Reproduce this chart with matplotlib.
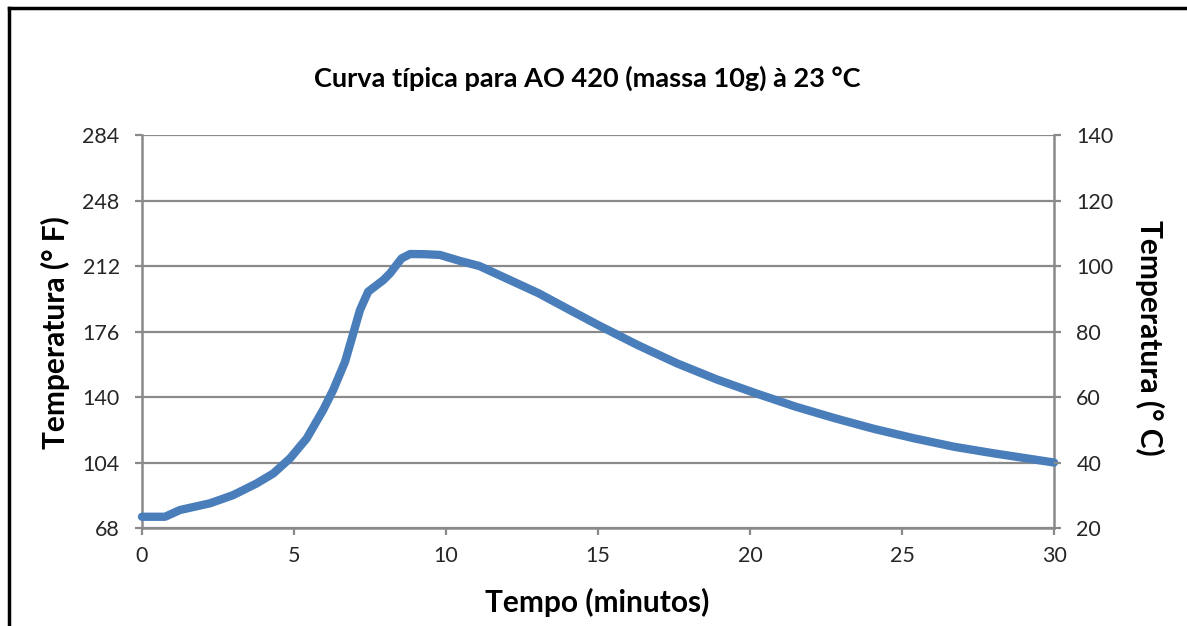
import matplotlib.pyplot as plt
from matplotlib.lines import Line2D

plt.rcParams["font.family"] = ["Lato", "DejaVu Sans"]

# curve: time (min) and temperature (deg F)
tempo = [0.0, 0.76, 1.25, 2.24, 3.0, 3.77, 4.32, 4.87, 5.42, 5.96, 6.29,
         6.68, 6.95, 7.17, 7.44, 7.94, 8.16, 8.54, 8.82, 9.3, 9.8, 10.46,
         11.1, 11.75, 13.05, 14.03, 15.0, 16.3, 17.6, 18.9, 20.2, 21.5,
         22.8, 24.1, 25.4, 26.7, 28.0, 30.0]
temp_f = [74.2, 74.2, 77.9, 81.6, 86.1, 92.5, 98.0, 106.3, 117.3, 132.9, 143.9,
          159.4, 175.0, 187.8, 197.9, 204.3, 208.0, 216.2, 218.6, 218.5, 218.1, 214.8,
          212.0, 207.0, 197.0, 188.2, 179.6, 168.6, 158.5, 149.7, 142.0, 134.7,
          128.3, 122.4, 117.3, 112.7, 109.1, 104.0]

f_ticks = [68, 104, 140, 176, 212, 248, 284]
c_ticks = [20, 40, 60, 80, 100, 120, 140]
x_ticks = [0, 5, 10, 15, 20, 25, 30]

grid_c = "#8a8a8a"
text_c = "#262626"

fig = plt.figure(figsize=(11.87, 6.26), dpi=100)
ax = fig.add_axes([0.1196, 0.1565, 0.7684, 0.6278])

ax.plot(tempo, temp_f, color="#4a7ebb", lw=6, solid_capstyle="round",
        solid_joinstyle="round", clip_on=False, zorder=3)

ax.set_xlim(0, 30)
ax.set_ylim(68, 284)
ax.set_xticks(x_ticks)
ax.set_yticks(f_ticks)
ax.grid(axis="y", color=grid_c, lw=1.6)
ax.set_axisbelow(True)

for side in ["left", "bottom", "right"]:
    ax.spines[side].set_color(grid_c)
    ax.spines[side].set_linewidth(1.8)
ax.spines["top"].set_visible(False)
ax.tick_params(axis="both", colors=grid_c, labelcolor=text_c, length=5,
               width=1.6, labelsize=15.5)
ax.tick_params(axis="x", pad=8)
ax.tick_params(axis="y", pad=11)

tax = ax.twinx()
tax.set_ylim(20, 140)
tax.set_yticks(c_ticks)
for side in ["left", "bottom", "right", "top"]:
    tax.spines[side].set_visible(False)
tax.tick_params(axis="y", colors=grid_c, labelcolor=text_c, length=5,
                width=1.6, labelsize=15.5, pad=11)

# axis titles
lab = {"fontsize": 21.5, "fontweight": "bold", "color": "black",
       "ha": "center", "va": "center"}
fig.text(597 / 1187, 1 - 602 / 626, "Tempo (minutos)", **lab)
fig.text(55 / 1187, 1 - 333 / 626, "Temperatura (° F)", rotation=90, **lab)
fig.text(1150 / 1187, 1 - 338 / 626, "Temperatura (° C)", rotation=270, **lab)

fig.text(587 / 1187, 1 - 78 / 626, "Curva típica para AO 420 (massa 10g) à 23 °C",
         ha="center", va="center", fontsize=19.5, fontweight="bold", color="black")

# outer frame (left and top edges)
fig.add_artist(Line2D([0.0076, 0.0076], [0.0, 0.987], color="black", lw=2.5,
                      transform=fig.transFigure))
fig.add_artist(Line2D([0.0076, 1.0], [0.987, 0.987], color="black", lw=2.5,
                      transform=fig.transFigure))

fig.savefig("out.png", dpi=100)
